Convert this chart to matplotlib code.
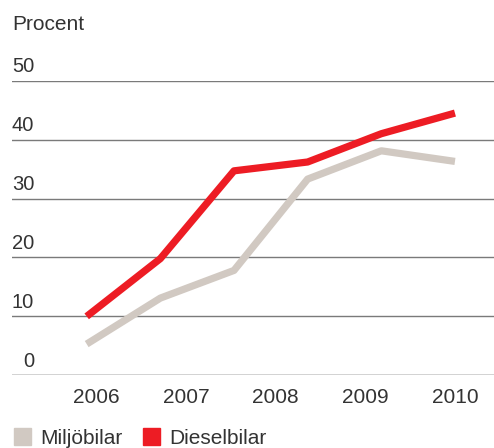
import matplotlib
matplotlib.use("Agg")
import matplotlib.pyplot as plt
from matplotlib.patches import Patch
import numpy as np

plt.rcParams['font.family'] = ['Liberation Sans', 'DejaVu Sans']

points = [0, 1, 2, 3, 4, 5]
miljobilar = [5.3, 13.1, 17.8, 33.3, 38.1, 36.3]
dieselbilar = [10.0, 19.8, 34.7, 36.2, 41.0, 44.5]
years = ['2006', '2007', '2008', '2009', '2010']
yticks = [0, 10, 20, 30, 40, 50]

red = '#ED1C24'
grey = '#D1C9C2'
txt = '#333333'

fig = plt.figure(figsize=(4.94, 4.48), dpi=100)
ax = fig.add_axes([12 / 494, 0.1623, 1 - 12 / 494, 0.6576])

for v in yticks:
    ax.axhline(v, color='#222222' if v == 0 else '#7a7a7a', lw=1.0, zorder=1)
    ax.annotate(str(v), xy=(0, v), xycoords=('axes fraction', 'data'),
                xytext=(16, 6), textcoords='offset points', ha='right',
                va='baseline', fontsize=14.5, color=txt)

ax.plot(points, miljobilar, color=grey, lw=5.2, solid_capstyle='butt', zorder=2)
ax.plot(points, dieselbilar, color=red, lw=5.2, solid_capstyle='butt', zorder=3)

ax.set_ylim(0, 50)
ax.set_xlim(-1.014, 5.53)
ax.set_yticks([])
ax.set_xticks(np.linspace(0.13, 5.0, len(years)))
ax.set_xticklabels(years, fontsize=15, color=txt)
ax.tick_params(axis='x', length=0, pad=9)
for s in ax.spines.values():
    s.set_visible(False)

fig.text(12 / 494, 1 - 30 / 448, 'Procent', fontsize=15, color=txt,
         ha='left', va='baseline')

handles = [Patch(color=grey, label='Miljöbilar'), Patch(color=red, label='Dieselbilar')]
fig.legend(handles=handles, loc='lower left', bbox_to_anchor=(12 / 494, -0.004),
           ncol=2, frameon=False, fontsize=15, handlelength=0.82,
           handleheight=0.82, handletextpad=0.45, columnspacing=0.95,
           borderpad=0.1, borderaxespad=0, labelcolor=txt)

fig.savefig('out.png', dpi=100)
